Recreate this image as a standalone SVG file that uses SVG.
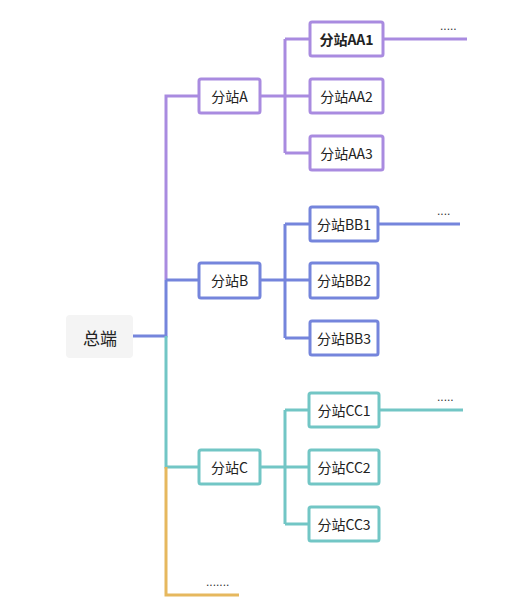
<svg xmlns="http://www.w3.org/2000/svg" width="528" height="608" viewBox="0 0 528 608">
<style>
.t{font-family:"Noto Sans CJK SC","Noto Sans",sans-serif;font-size:14px;fill:#222;text-anchor:middle;dominant-baseline:central}
.b{fill:#fff;stroke-width:3}
.l{fill:none;stroke-width:3}
.p{stroke:#a98be0}
.bl{stroke:#7585dc}
.tl{stroke:#72c6c5}
.y{stroke:#e6b85e}
.d{font-family:"Liberation Sans",sans-serif;font-size:12px;fill:#333}
</style>
<rect width="528" height="608" fill="#fff"/>
<g id="connectors">
<path class="l bl" d="M133 336H166V280"/>
<path class="l p" d="M166 280V96H199"/>
<path class="l bl" d="M166 280H199"/>
<path class="l tl" d="M166 336V467H199"/>
<path class="l y" d="M166 467V595H239"/>
<path class="l p" d="M260 96H310M285 39V153M285 39H310M285 153H310M383 39H467"/>
<path class="l bl" d="M260 280H310M285 224V338M285 224H310M285 338H310M378 224H460"/>
<path class="l tl" d="M260 467H310M285 410V524M285 410H310M285 524H310M379 410H463"/>
</g>
<g id="root"><rect x="66" y="315" width="67" height="43" rx="4" fill="#f4f4f4"/><text class="t" x="100" y="337" style="font-size:17px">总端</text></g>
<g id="A"><rect class="b p" x="199" y="79" width="61" height="34" rx="2"/><text class="t" x="229.5" y="96">分站A</text></g>
<g id="AA1"><rect class="b p" x="310" y="22" width="73" height="34" rx="2"/><text class="t" x="346.5" y="39" font-weight="bold">分站AA1</text></g>
<g id="AA2"><rect class="b p" x="310" y="79" width="73" height="34" rx="2"/><text class="t" x="346.5" y="96">分站AA2</text></g>
<g id="AA3"><rect class="b p" x="310" y="136" width="73" height="34" rx="2"/><text class="t" x="346.5" y="153">分站AA3</text></g>
<g id="B"><rect class="b bl" x="199" y="263" width="61" height="35" rx="2"/><text class="t" x="229.5" y="280">分站B</text></g>
<g id="BB1"><rect class="b bl" x="310" y="207" width="68" height="34" rx="2"/><text class="t" x="344" y="224">分站BB1</text></g>
<g id="BB2"><rect class="b bl" x="310" y="263" width="68" height="35" rx="2"/><text class="t" x="344" y="280">分站BB2</text></g>
<g id="BB3"><rect class="b bl" x="310" y="321" width="68" height="34" rx="2"/><text class="t" x="344" y="338">分站BB3</text></g>
<g id="C"><rect class="b tl" x="199" y="450" width="61" height="34" rx="2"/><text class="t" x="229.5" y="467">分站C</text></g>
<g id="CC1"><rect class="b tl" x="309" y="393" width="70" height="34" rx="2"/><text class="t" x="344" y="410">分站CC1</text></g>
<g id="CC2"><rect class="b tl" x="309" y="450" width="70" height="34" rx="2"/><text class="t" x="344" y="467">分站CC2</text></g>
<g id="CC3"><rect class="b tl" x="309" y="507" width="70" height="34" rx="2"/><text class="t" x="344" y="524">分站CC3</text></g>
<g id="dots">
<text class="d" x="440" y="30">.....</text>
<text class="d" x="437" y="215">....</text>
<text class="d" x="437" y="401">.....</text>
<text class="d" x="206" y="586">.......</text>
</g>
</svg>
